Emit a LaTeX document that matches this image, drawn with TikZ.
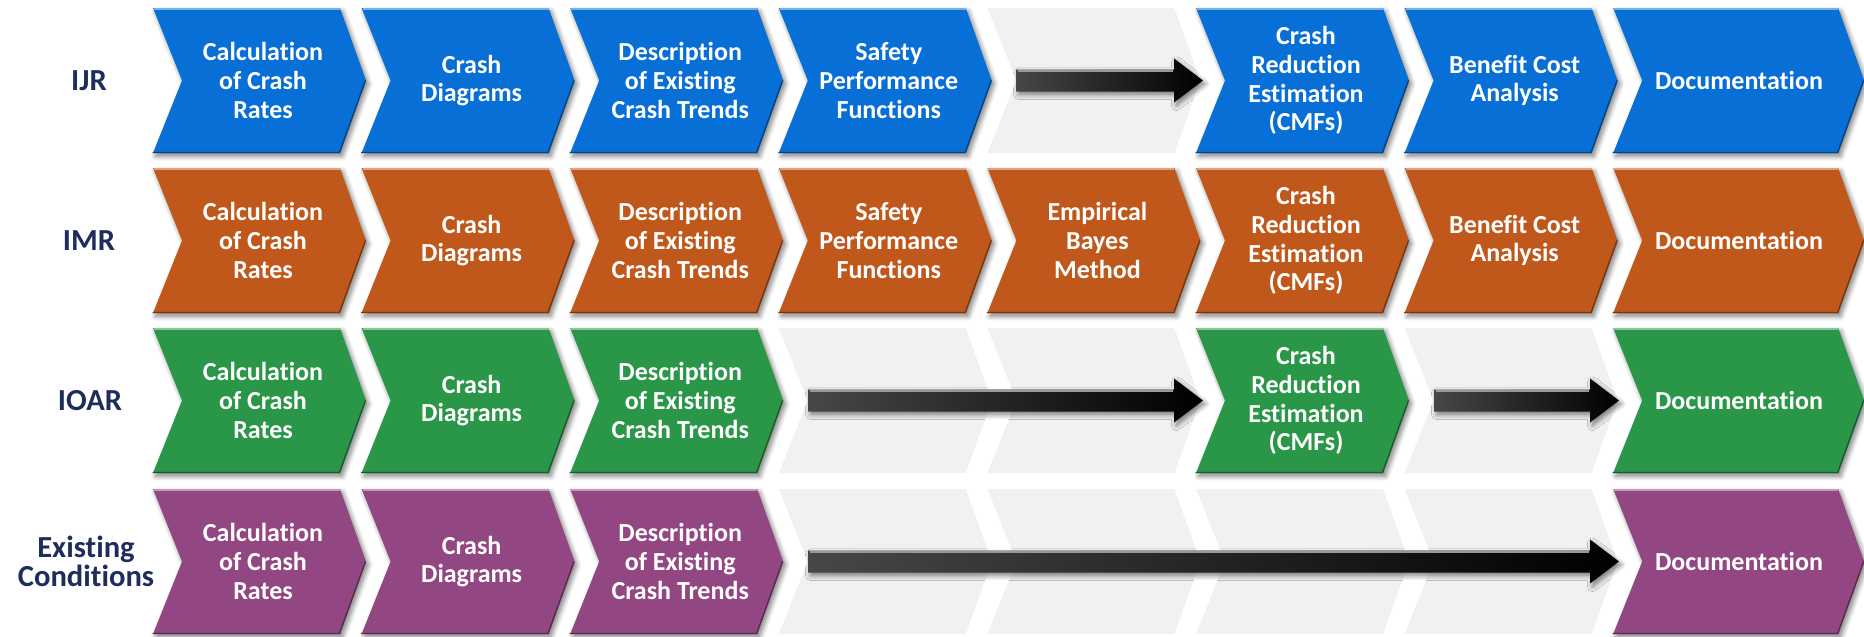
\documentclass[tikz,border=0pt]{standalone}
\usepackage{fontspec}
\setmainfont{Carlito}[Ligatures=NoCommon]
\usetikzlibrary{calc,shadows.blur}

\definecolor{ijrblue}{RGB}{8,111,214}
\definecolor{imrorange}{RGB}{193,88,27}
\definecolor{ioargreen}{RGB}{42,150,72}
\definecolor{excpurple}{RGB}{146,70,130}
\definecolor{slotgray}{RGB}{241,241,241}
\definecolor{labelnavy}{RGB}{31,45,92}

\tikzset{
	steptext/.style={text=white, align=center, font=\fontsize{13}{14.4}\selectfont\bfseries},
	rowlabel/.style={text=labelnavy, align=center, font=\fontsize{15.3}{14.2}\selectfont\bfseries},
	stepshadow/.style={blur shadow={shadow xshift=1.2pt, shadow yshift=-1.6pt, shadow blur steps=6, shadow blur radius=2.4pt, shadow opacity=50}},
	arrowfill/.style={left color=black!72, right color=black, stepshadow},
}

% coloured step: [top width]{left x}{top y}{colour}
\newcommand\stepchev[4][187]{%
	\fill[#4, stepshadow] (#2,#3) -- ++(#1,0) -- ++(26,72.5) -- ++(-26,72.5) -- ++(-#1,0) -- ++(29,-72.5) -- cycle;
	\draw[#4!55!white, line width=0.7] (#2+1,#3+0.8) -- ++(#1-1,0);
	\draw[#4!60!black, line width=0.7] (#2+#1+25.5,#3+72.5) -- ++(-26,72) -- ++(-#1,0);
}
% empty step
\newcommand\slotchev[3][187]{%
	\fill[slotgray] (#2,#3) -- ++(#1,0) -- ++(26,72.5) -- ++(-26,72.5) -- ++(-#1,0) -- ++(29,-72.5) -- cycle;
}
% block arrow between two named points
\newcommand\blockarrow[2]{%
	\shade[arrowfill] ($(#1)+(0,-11)$) -- ($(#2)+(-29,-11)$) -- ($(#2)+(-29,-22)$) -- (#2) -- ($(#2)+(-29,22)$) -- ($(#2)+(-29,11)$) -- ($(#1)+(0,11)$) -- cycle;
	\draw[black!40, line width=0.6] ($(#1)+(1.5,-9.5)$) -- ($(#2)+(-30,-9.5)$);
}

\begin{document}
\begin{tikzpicture}[x=0.5pt,y=-0.5pt]
	\useasboundingbox (0,0) rectangle (1864,637);
	
	\node[rowlabel] (ijr) at (89,80.5) {IJR};
	\node[rowlabel] (imr) at (89,240.5) {IMR};
	\node[rowlabel] (ioar) at (90,400.5) {IOAR};
	\node[rowlabel] (exc) at (86,561.5) {Existing\\Conditions};
	
	\stepchev{153}{8}{ijrblue}
	\stepchev{361.6}{8}{ijrblue}
	\stepchev{570.2}{8}{ijrblue}
	\stepchev{778.8}{8}{ijrblue}
	\slotchev{987.4}{8}
	\stepchev{1196}{8}{ijrblue}
	\stepchev{1404.6}{8}{ijrblue}
	\stepchev[225]{1613.2}{8}{ijrblue}
	
	\stepchev{153}{168}{imrorange}
	\stepchev{361.6}{168}{imrorange}
	\stepchev{570.2}{168}{imrorange}
	\stepchev{778.8}{168}{imrorange}
	\stepchev{987.4}{168}{imrorange}
	\stepchev{1196}{168}{imrorange}
	\stepchev{1404.6}{168}{imrorange}
	\stepchev[225]{1613.2}{168}{imrorange}
	
	\stepchev{153}{328}{ioargreen}
	\stepchev{361.6}{328}{ioargreen}
	\stepchev{570.2}{328}{ioargreen}
	\slotchev{778.8}{328}
	\slotchev{987.4}{328}
	\stepchev{1196}{328}{ioargreen}
	\slotchev{1404.6}{328}
	\stepchev[225]{1613.2}{328}{ioargreen}
	
	\stepchev{153}{489}{excpurple}
	\stepchev{361.6}{489}{excpurple}
	\stepchev{570.2}{489}{excpurple}
	\slotchev{778.8}{489}
	\slotchev{987.4}{489}
	\slotchev{1196}{489}
	\slotchev{1404.6}{489}
	\stepchev[225]{1613.2}{489}{excpurple}
	
	\node[steptext] (ijr-rates) at (263,80.5) {Calculation\\of Crash\\Rates};
	\node[steptext] (ijr-diag) at (471.6,80.5) {Crash\\Diagrams};
	\node[steptext] (ijr-trend) at (680.2,80.5) {Description\\of Existing\\Crash Trends};
	\node[steptext] (ijr-spf) at (888.8,80.5) {Safety\\Performance\\Functions};
	\node[steptext] (ijr-cmf) at (1306,80.5) {Crash\\Reduction\\Estimation\\(CMFs)};
	\node[steptext] (ijr-bca) at (1514.6,80.5) {Benefit Cost\\Analysis};
	\node[steptext] (ijr-doc) at (1739,80.5) {Documentation};
	
	\node[steptext] (imr-rates) at (263,240.5) {Calculation\\of Crash\\Rates};
	\node[steptext] (imr-diag) at (471.6,240.5) {Crash\\Diagrams};
	\node[steptext] (imr-trend) at (680.2,240.5) {Description\\of Existing\\Crash Trends};
	\node[steptext] (imr-spf) at (888.8,240.5) {Safety\\Performance\\Functions};
	\node[steptext] (imr-eb) at (1097.4,240.5) {Empirical\\Bayes\\Method};
	\node[steptext] (imr-cmf) at (1306,240.5) {Crash\\Reduction\\Estimation\\(CMFs)};
	\node[steptext] (imr-bca) at (1514.6,240.5) {Benefit Cost\\Analysis};
	\node[steptext] (imr-doc) at (1739,240.5) {Documentation};
	
	\node[steptext] (ioar-rates) at (263,400.5) {Calculation\\of Crash\\Rates};
	\node[steptext] (ioar-diag) at (471.6,400.5) {Crash\\Diagrams};
	\node[steptext] (ioar-trend) at (680.2,400.5) {Description\\of Existing\\Crash Trends};
	\node[steptext] (ioar-cmf) at (1306,400.5) {Crash\\Reduction\\Estimation\\(CMFs)};
	\node[steptext] (ioar-doc) at (1739,400.5) {Documentation};
	
	\node[steptext] (exc-rates) at (263,561.5) {Calculation\\of Crash\\Rates};
	\node[steptext] (exc-diag) at (471.6,561.5) {Crash\\Diagrams};
	\node[steptext] (exc-trend) at (680.2,561.5) {Description\\of Existing\\Crash Trends};
	\node[steptext] (exc-doc) at (1739,561.5) {Documentation};
	
	\coordinate (ijr-skip) at (1016,80.5);
	\coordinate (ijr-cmf-in) at (1203,80.5);
	\coordinate (ioar-skip) at (808,400.5);
	\coordinate (ioar-cmf-in) at (1203,400.5);
	\coordinate (ioar-skip2) at (1434,400.5);
	\coordinate (ioar-doc-in) at (1619,400.5);
	\coordinate (exc-skip) at (808,561.5);
	\coordinate (exc-doc-in) at (1619,561.5);
	
	\blockarrow{ijr-skip}{ijr-cmf-in}
	\blockarrow{ioar-skip}{ioar-cmf-in}
	\blockarrow{ioar-skip2}{ioar-doc-in}
	\blockarrow{exc-skip}{exc-doc-in}
	
\end{tikzpicture}
\end{document}
